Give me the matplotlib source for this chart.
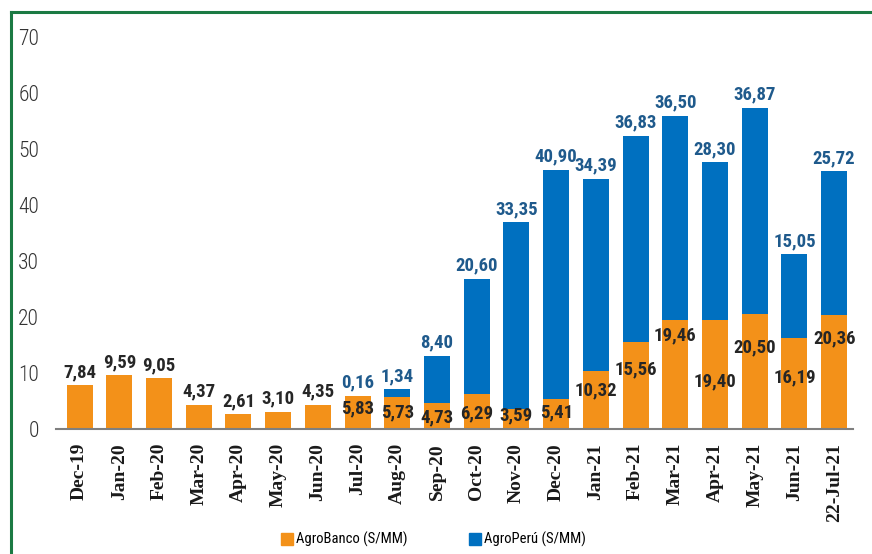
import matplotlib.pyplot as plt
import numpy as np
from matplotlib.lines import Line2D

# months and amounts (S/ MM)
meses = ["Dec-19", "Jan-20", "Feb-20", "Mar-20", "Apr-20", "May-20", "Jun-20",
         "Jul-20", "Aug-20", "Sep-20", "Oct-20", "Nov-20", "Dec-20", "Jan-21",
         "Feb-21", "Mar-21", "Apr-21", "May-21", "Jun-21", "22-Jul-21"]
agrobanco = [7.84, 9.59, 9.05, 4.37, 2.61, 3.10, 4.35, 5.83, 5.73, 4.73,
             6.29, 3.59, 5.41, 10.32, 15.56, 19.46, 19.40, 20.50, 16.19, 20.36]
agroperu = [0, 0, 0, 0, 0, 0, 0, 0.16, 1.34, 8.40,
            20.60, 33.35, 40.90, 34.39, 36.83, 36.50, 28.30, 36.87, 15.05, 25.72]

# how far (points) the AgroBanco label sits below the top of its segment, stacked bars only
caida = [0, 0, 0, 0, 0, 0, 0, 9, 11, 11,
         14, 4.5, 10, 13.5, 20, 10.7, 44, 24, 28, 16.5]

naranja = "#F39119"
azul = "#0070C0"
azul_txt = "#1F5A8C"
verde = "#1B7A43"
cond = ["Roboto Condensed", "DejaVu Sans"]

fig = plt.figure(figsize=(8.72, 5.54), dpi=100)
ax = fig.add_axes([0.064, 0.2256, 0.914, 0.7474])

x = np.arange(len(meses))
ab = np.array(agrobanco)
ap = np.array(agroperu)
w = 0.655
ax.bar(x, ab, w, color=naranja, zorder=2)
ax.bar(x, ap, w, bottom=ab, color=azul, zorder=2)


def fmt(v):
    return f"{v:.2f}".replace(".", ",")


for i in x:
    if ap[i] > 0:
        # stacked bar: orange value inside, blue value on top
        ax.annotate(fmt(ab[i]), (i, ab[i]), xytext=(0, -caida[i]), textcoords="offset points",
                    ha="center", va="center", fontsize=13.5, fontweight="bold",
                    family=cond, color="#262626", zorder=3)
        ax.annotate(fmt(ap[i]), (i, ab[i] + ap[i]), xytext=(0, 3), textcoords="offset points",
                    ha="center", va="bottom", fontsize=13.5, fontweight="bold",
                    family=cond, color=azul_txt, zorder=3)
    else:
        ax.annotate(fmt(ab[i]), (i, ab[i]), xytext=(0, 3), textcoords="offset points",
                    ha="center", va="bottom", fontsize=13.5, fontweight="bold",
                    family=cond, color="#262626", zorder=3)

ax.set_xlim(-0.6, 19.47)
ax.set_ylim(0, 74)
ax.set_yticks(range(0, 71, 10))
ax.set_xticks(x)
ax.set_xticklabels(meses, rotation=90, family="Liberation Serif", fontweight="bold",
                   fontsize=14, color="#1a1a1a")
for lab in ax.get_yticklabels():
    lab.set_family(cond)
    lab.set_fontsize(15.5)
    lab.set_fontweight("light")
    lab.set_color("#333333")
ax.tick_params(axis="y", length=0, pad=12)
ax.tick_params(axis="x", length=0, pad=10)
for s in ["top", "right", "left"]:
    ax.spines[s].set_visible(False)
ax.spines["bottom"].set_color("#7f7f7f")
ax.spines["bottom"].set_linewidth(1.5)

# green frame (top and left)
fig.add_artist(Line2D([0.0126, 1.0], [0.979, 0.979], color=verde, lw=2.2, transform=fig.transFigure))
fig.add_artist(Line2D([0.0126, 0.0126], [0.0, 0.979], color=verde, lw=2.2, transform=fig.transFigure))

handles = [Line2D([], [], marker="s", ls="", color=naranja, markersize=8),
           Line2D([], [], marker="s", ls="", color=azul, markersize=8)]
fig.legend(handles, ["AgroBanco (S/MM)", "AgroPerú (S/MM)"], loc="center",
           bbox_to_anchor=(0.497, 0.026), ncol=2, frameon=False, columnspacing=4.2,
           handletextpad=0.25, handlelength=0.8, prop={"family": cond, "size": 10.5})

fig.savefig("out.png", dpi=100)
